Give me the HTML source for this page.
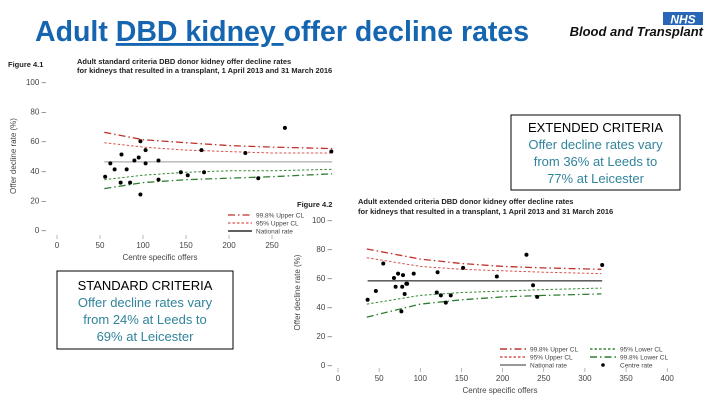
<!DOCTYPE html>
<html><head><meta charset="utf-8"><style>
html,body{margin:0;padding:0;background:#fff;}
body{width:720px;height:405px;overflow:hidden;position:relative;font-family:"Liberation Sans",sans-serif;}
svg text{font-family:"Liberation Sans",sans-serif;}
</style></head><body>
<svg id="s" width="720" height="405" viewBox="0 0 720 405">
<text x="35" y="41" font-size="28.5" font-weight="bold" fill="#1565b0">Adult <tspan text-decoration="underline">DBD kidney </tspan>offer decline rates</text>
<g>
<rect x="663" y="12" width="40" height="13" fill="#2a66b8"/>
<text x="683" y="23.5" font-size="12" font-weight="bold" font-style="italic" fill="#fff" text-anchor="middle">NHS</text>
<text x="703" y="36" font-size="13" font-weight="bold" font-style="italic" fill="#111" text-anchor="end">Blood and Transplant</text>
</g>
<text x="8" y="67" font-size="7.5" font-weight="bold" fill="#222">Figure 4.1</text>
<text x="77" y="64" font-size="7.5" font-weight="bold" fill="#222">Adult standard criteria DBD donor kidney offer decline rates</text>
<text x="77" y="73" font-size="7.5" font-weight="bold" fill="#222">for kidneys that resulted in a transplant, 1 April 2013 and 31 March 2016</text>
<text x="297" y="207" font-size="7.5" font-weight="bold" fill="#222">Figure 4.2</text>
<text x="358" y="204" font-size="7.5" font-weight="bold" fill="#222">Adult extended criteria DBD donor kidney offer decline rates</text>
<text x="358" y="214" font-size="7.5" font-weight="bold" fill="#222">for kidneys that resulted in a transplant, 1 April 2013 and 31 March 2016</text>
<g id="c1"></g>
<g id="c2"></g>
<g>
<rect x="511" y="115" width="169" height="75" fill="#fff" stroke="#000" stroke-width="1"/>
<text x="595.5" y="132" font-size="13" text-anchor="middle" fill="#000">EXTENDED CRITERIA</text>
<text x="595.5" y="149" font-size="13" text-anchor="middle" fill="#31849b">Offer decline rates vary</text>
<text x="595.5" y="166" font-size="13" text-anchor="middle" fill="#31849b">from 36% at Leeds to</text>
<text x="595.5" y="183" font-size="13" text-anchor="middle" fill="#31849b">77% at Leicester</text>
</g>
<g>
<rect x="57" y="271" width="176" height="78" fill="#fff" stroke="#000" stroke-width="1"/>
<text x="145" y="290" font-size="13" text-anchor="middle" fill="#000">STANDARD CRITERIA</text>
<text x="145" y="307" font-size="13" text-anchor="middle" fill="#31849b">Offer decline rates vary</text>
<text x="145" y="324" font-size="13" text-anchor="middle" fill="#31849b">from 24% at Leeds to</text>
<text x="145" y="341" font-size="13" text-anchor="middle" fill="#31849b">69% at Leicester</text>
</g>
</svg>
<script>
// Chart 1 data (standard criteria)
const c1Offers = [62,56,67,74,75,81,85,90,95,97,97,103,103,118,118,144,152,168,171,219,234,265,319];
const c1Rates  = [45,36,41,32,51,41,32,47,49,60,24,54,45,47,34,39,37,54,39,52,35,69,53];
const c1National = 46;
const c1FunnelN = [55,100,150,200,250,320];
const c1Upper998 = [66,61,59,57,56,55];
const c1Upper95  = [59,56,54,53,52,52];
const c1Lower95  = [34,37,39,40,40,41];
const c1Lower998 = [28,32,34,35,36,38];
const c1XTicks = [0,50,100,150,200,250];
const c1YTicks = [0,20,40,60,80,100];
// Chart 2 data (extended criteria)
const c2Offers = [36,46,55,70,68,73,79,78,81,83,84,77,92,120,121,125,131,137,152,193,229,237,242,321];
const c2Rates  = [45,51,70,54,60,63,62,54,49,56,56,37,63,50,64,48,43,48,67,61,76,55,47,69];
const c2National = 58;
const c2FunnelN = [35,100,150,200,250,320];
const c2Upper998 = [80,73,70,68,67,66];
const c2Upper95  = [74,68,66,65,64,63];
const c2Lower95  = [42,48,50,51,52,53];
const c2Lower998 = [33,42,45,47,48,49];
const c2XTicks = [0,50,100,150,200,250,300,350,400];
const c2YTicks = [0,20,40,60,80,100];

const NS='http://www.w3.org/2000/svg';
function mk(parent,tag,attrs){const e=document.createElementNS(NS,tag);for(const k in attrs)e.setAttribute(k,attrs[k]);parent.appendChild(e);return e;}

function draw(g,cfg){
  const sx=v=>cfg.x0+v*cfg.kx, sy=v=>cfg.y0-v*cfg.ky;
  cfg.yTicks.forEach(t=>{
    const tx=mk(g,'text',{x:cfg.yLabX,y:sy(t)+3,'font-size':8,fill:'#444','text-anchor':'end'});
    tx.textContent=t+' –';
    
    
  });
  cfg.xTicks.forEach(t=>{
    const ln=mk(g,'line',{x1:sx(t),x2:sx(t),y1:cfg.xAxisY,y2:cfg.xAxisY+4,stroke:'#888','stroke-width':0.6});
    
    
    const tx=mk(g,'text',{x:sx(t),y:cfg.xAxisY+13,'font-size':8,fill:'#444','text-anchor':'middle'});
    tx.textContent=t;
    
    
  });
  const xt=mk(g,'text',{x:cfg.xTitleX,y:cfg.xAxisY+25,'font-size':8,fill:'#444','text-anchor':'middle'});
  xt.textContent='Centre specific offers';
  
  
  const yt=mk(g,'text',{x:0,y:0,'font-size':8,fill:'#444','text-anchor':'middle',transform:`translate(${cfg.yTitleX},${sy(50)}) rotate(-90)`});
  yt.textContent='Offer decline rate (%)';
  
  
  const line=(arr,stroke,dash,w,name)=>{
    const d=cfg.fn.map((n,i)=>(i?'L':'M')+sx(n).toFixed(1)+','+sy(arr[i]).toFixed(1)).join(' ');
    const p=mk(g,'path',{d:d,fill:'none',stroke:stroke,'stroke-width':w,'stroke-dasharray':dash});
    
    
  };
  line(cfg.u998,'#c0302a','7,3,1.5,3',1.3,'upper-99-8-limit');
  line(cfg.u95,'#d9534f','2.5,2',1,'upper-95-limit');
  line(cfg.l95,'#3a8a3a','2.5,2',1,'lower-95-limit');
  line(cfg.l998,'#2e7d32','7,3,1.5,3',1.3,'lower-99-8-limit');
  const nl=mk(g,'line',{x1:sx(cfg.natFrom),x2:sx(cfg.natTo),y1:sy(cfg.nat),y2:sy(cfg.nat),stroke:cfg.natColor,'stroke-width':1});
  
  
  cfg.xs.forEach((v,i)=>{
    const c=mk(g,'circle',{cx:sx(v),cy:sy(cfg.ys[i]),r:2,fill:'#000'});
    
    
  });
}
draw(document.getElementById('c1'),{x0:57,kx:0.86,y0:230,ky:1.48,xAxisY:235,yLabX:46,xTitleX:160,yTitleX:16,
  xTicks:c1XTicks,yTicks:c1YTicks,xs:c1Offers,ys:c1Rates,fn:c1FunnelN,u998:c1Upper998,u95:c1Upper95,l95:c1Lower95,l998:c1Lower998,
  nat:c1National,natFrom:55,natTo:320,natColor:'#999'});
draw(document.getElementById('c2'),{x0:338,kx:0.823,y0:365,ky:1.45,xAxisY:368,yLabX:332,xTitleX:500,yTitleX:300,
  xTicks:c2XTicks,yTicks:c2YTicks,xs:c2Offers,ys:c2Rates,fn:c2FunnelN,u998:c2Upper998,u95:c2Upper95,l95:c2Lower95,l998:c2Lower998,
  nat:c2National,natFrom:36,natTo:321,natColor:'#000'});

// legends
(function(){
  const s=document.getElementById('s');
  const L1=mk(s,'g',{});
  
  
  const items1=[['#c0302a','7,3,1.5,3','99.8% Upper CL'],['#d9534f','2.5,2','95% Upper CL'],['#000','','National rate']];
  items1.forEach((it,i)=>{
    const y=215+i*8;
    mk(L1,'line',{x1:228,x2:252,y1:y,y2:y,stroke:it[0],'stroke-width':1.2,'stroke-dasharray':it[1]});
    const t=mk(L1,'text',{x:256,y:y+2.5,'font-size':6.5,fill:'#444'});t.textContent=it[2];
    
    
  });
  const L2=mk(s,'g',{});
  
  
  const items2=[[500,'#c0302a','7,3,1.5,3','99.8% Upper CL'],[590,'#3a8a3a','2.5,2','95% Lower CL'],
    [500,'#d9534f','2.5,2','95% Upper CL'],[590,'#2e7d32','7,3,1.5,3','99.8% Lower CL'],[500,'#777','','National rate'],[590,null,'','Centre rate']];
  items2.forEach((it,i)=>{
    const y=349+Math.floor(i/2)*8, x=it[0];
    if(it[1]) mk(L2,'line',{x1:x,x2:x+26,y1:y,y2:y,stroke:it[1],'stroke-width':1.4,'stroke-dasharray':it[2]});
    else mk(L2,'circle',{cx:x+13,cy:y,r:1.8,fill:'#000'});
    const t=mk(L2,'text',{x:x+30,y:y+2.5,'font-size':6.5,fill:'#444'});t.textContent=it[3];
    
    
  });
})();
</script>
</body></html>
